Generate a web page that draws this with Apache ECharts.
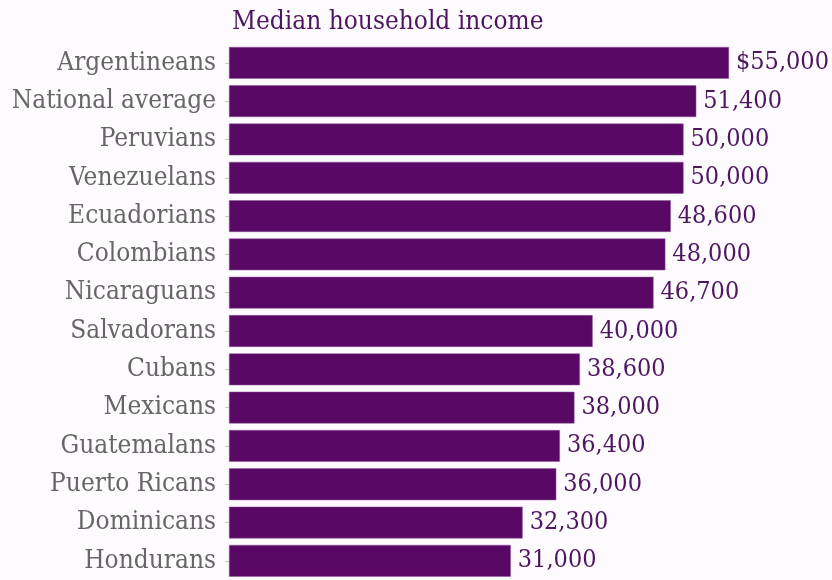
<!DOCTYPE html>
<html><head><meta charset="utf-8">
<script src="https://cdn.jsdelivr.net/npm/echarts@6/dist/echarts.min.js"></script>
<style>html,body{margin:0;padding:0;background:#fdfbfd}#c{width:832px;height:580px}</style>
</head><body><div id="c"></div>
<script>
const categories = ["Argentineans","National average","Peruvians","Venezuelans","Ecuadorians","Colombians","Nicaraguans","Salvadorans","Cubans","Mexicans","Guatemalans","Puerto Ricans","Dominicans","Hondurans"];
const values = [55000,51400,50000,50000,48600,48000,46700,40000,38600,38000,36400,36000,32300,31000];
const valueLabels = ["$55,000","51,400","50,000","50,000","48,600","48,000","46,700","40,000","38,600","38,000","36,400","36,000","32,300","31,000"];
const title = "Median household income";
const font = "'DejaVu Serif Condensed', 'DejaVu Serif', serif";
const chart = echarts.init(document.getElementById('c'));
chart.setOption({
  backgroundColor: '#fdfbfd',
  animation: false,
  title: {text: title, left: 227, top: 4, textStyle: {fontFamily: font, fontSize: 26, fontWeight: 'normal', color: '#4e1560'}},
  grid: {left: 229, right: 103, top: 43.7, bottom: -3.3, containLabel: false},
  xAxis: {type: 'value', min: 0, max: 55000, show: false},
  yAxis: {type: 'category', data: categories, inverse: true,
    axisLine: {show: false},
    axisTick: {show: true, length: 4, lineStyle: {color: '#ccc'}, alignWithLabel: true},
    axisLabel: {fontFamily: font, fontSize: 26, color: '#666', margin: 13}},
  series: [{type: 'bar', data: values, barCategoryGap: '17%',
    itemStyle: {color: '#5a0866', borderColor: '#8a5a96', borderWidth: 0.5},
    label: {show: true, position: 'right', distance: 7, fontFamily: font, fontSize: 25, color: '#4e1560',
      formatter: p => valueLabels[p.dataIndex]}}]
});
</script></body></html>
